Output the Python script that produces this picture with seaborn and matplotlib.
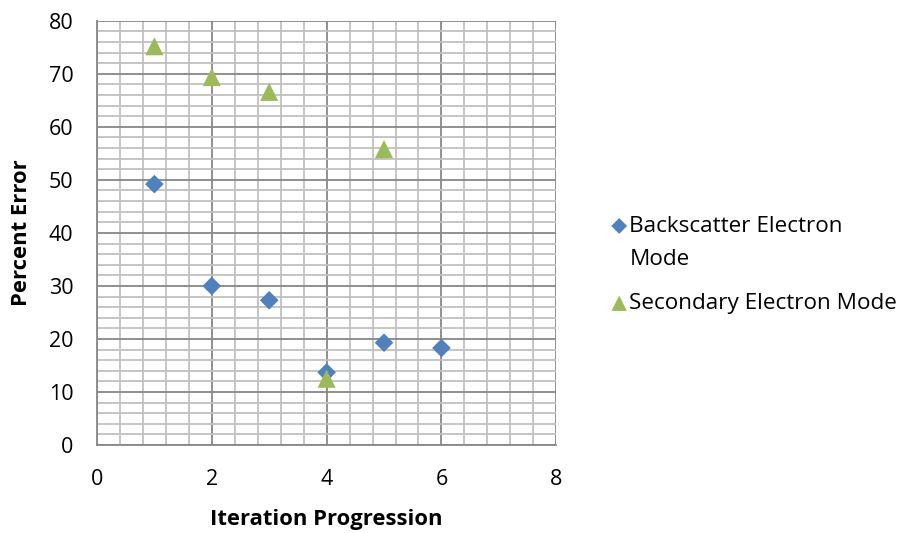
import numpy as np
import pandas as pd
import seaborn as sns
import matplotlib
matplotlib.use("Agg")
import matplotlib.pyplot as plt
from matplotlib.ticker import MultipleLocator

# Data
bse_x = [1, 2, 3, 4, 5, 6]
bse_y = [49.2, 30.0, 27.3, 13.7, 19.3, 18.3]
se_x = [1, 2, 3, 4, 5]
se_y = [75.2, 69.4, 66.6, 12.5, 55.8]
series_names = ["Backscatter Electron Mode", "Secondary Electron Mode"]
legend_first_lines = ["Backscatter Electron", "Secondary Electron Mode"]
legend_extra_line = "Mode"
x_ticks = [0, 2, 4, 6, 8]
y_ticks = [0, 10, 20, 30, 40, 50, 60, 70, 80]

sns.set_theme(style="white")
plt.rcParams['font.family'] = ['Open Sans', 'DejaVu Sans']
plt.rcParams['text.color'] = 'black'

df = pd.DataFrame({
    "x": bse_x + se_x,
    "y": bse_y + se_y,
    "series": [series_names[0]] * len(bse_x) + [series_names[1]] * len(se_x),
})

fig = plt.figure(figsize=(9.06, 5.33), dpi=100)
ax = fig.add_axes([0.107, 0.165, 0.507, 0.796])

palette = {series_names[0]: "#4F81BD", series_names[1]: "#9BBB59"}
markers = {series_names[0]: "D", series_names[1]: "^"}
sizes = {series_names[0]: 90, series_names[1]: 170}

for name in series_names:
    sub = df[df.series == name]
    sns.scatterplot(data=sub, x="x", y="y", color=palette[name], marker=markers[name],
                    s=sizes[name], edgecolor="none", ax=ax, zorder=3, label=name, legend=False)

ax.set_xlim(0, 8)
ax.set_ylim(0, 80)
ax.xaxis.set_minor_locator(MultipleLocator(0.4))
ax.yaxis.set_minor_locator(MultipleLocator(2))
ax.set_xticks(x_ticks)
ax.set_yticks(y_ticks)
ax.grid(which="major", color="#878787", linewidth=1.3, zorder=1)
ax.grid(which="minor", color="#C0C0C0", linewidth=1.3, zorder=0)
ax.set_axisbelow(True)

for s in ["top", "right"]:
    ax.spines[s].set_visible(False)
for s in ["left", "bottom"]:
    ax.spines[s].set_color("#878787")
    ax.spines[s].set_linewidth(1.3)

ax.tick_params(axis="both", which="major", direction="out", length=6, width=1.3,
               color="#878787", labelsize=15.5, labelcolor="black")
ax.tick_params(axis="both", which="minor", length=0)
ax.tick_params(axis="x", pad=11)
ax.tick_params(axis="y", pad=11)

ax.set_xlabel("Iteration Progression", fontsize=15.8, fontweight="bold", labelpad=14, color="black")
ax.set_ylabel("Percent Error", fontsize=15.8, fontweight="bold", labelpad=12, color="black")

handles, _ = ax.get_legend_handles_labels()
leg_fs = 16.2
leg = fig.legend(handles, legend_first_lines, loc="upper left", bbox_to_anchor=(0.6735, 0.595),
                 frameon=False, fontsize=leg_fs, handletextpad=0.05, labelspacing=2.5,
                 handlelength=0.8, markerscale=0.85, borderpad=0, borderaxespad=0)
for t in leg.get_texts():
    t.set_color("black")

fig.canvas.draw()
t0 = leg.get_texts()[0]
bb = t0.get_window_extent()
inv = fig.transFigure.inverted()
x0, y0 = inv.transform((bb.x0, bb.y0 - 33))
fig.text(x0, y0, legend_extra_line, fontsize=leg_fs, color="black", ha="left", va="bottom")

fig.savefig("out.png", dpi=100)
